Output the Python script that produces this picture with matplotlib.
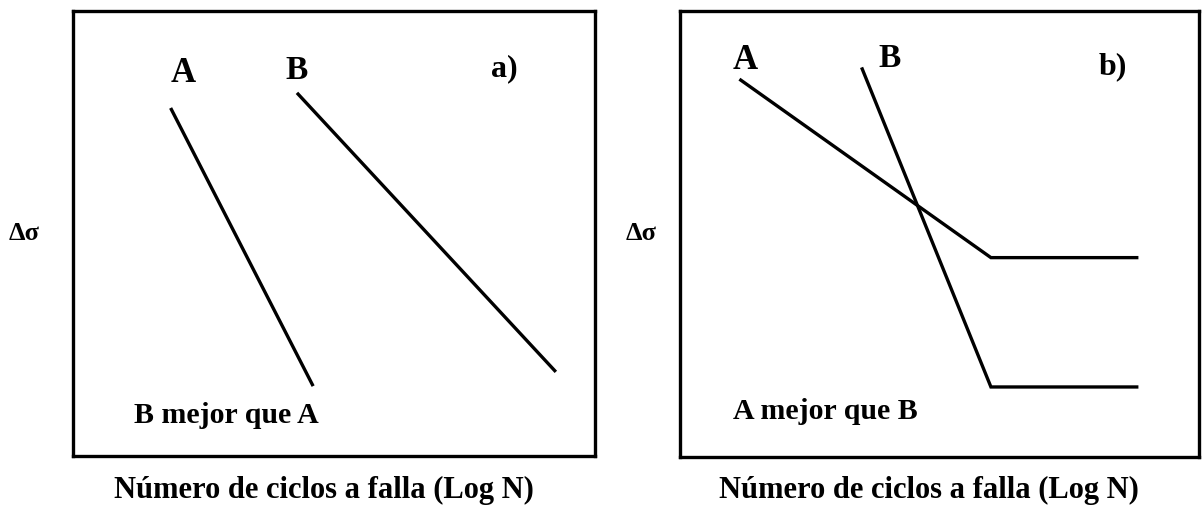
import matplotlib
matplotlib.use("Agg")
import matplotlib.pyplot as plt

# ─── Data (schematic S-N curves, axes 0–10 in both directions) ───────────────
# Panel a): two straight lines, B lies to the right of A
A_LEFT_X = [1.87, 4.60]
A_LEFT_Y = [7.82, 1.57]
B_LEFT_X = [4.29, 9.25]
B_LEFT_Y = [8.16, 1.89]

# Panel b): curves with a fatigue limit (horizontal tail)
A_RIGHT_X = [1.17, 5.99, 8.80]
A_RIGHT_Y = [8.45, 4.47, 4.47]
B_RIGHT_X = [3.51, 5.99, 8.80]
B_RIGHT_Y = [8.70, 1.57, 1.57]

XLABEL = "Número de ciclos a falla (Log N)"
YLABEL = "Δσ"
NOTE_LEFT = "B mejor que A"
NOTE_RIGHT = "A mejor que B"

FONT = ["Liberation Serif", "DejaVu Serif"]
LW = 2.4

fig = plt.figure(figsize=(12.03, 5.08), dpi=100)
ax1 = fig.add_axes([0.0607, 0.1024, 0.4339, 0.8760])
ax2 = fig.add_axes([0.5653, 0.1004, 0.4314, 0.8780])

for ax in (ax1, ax2):
    ax.set_xlim(0, 10)
    ax.set_ylim(0, 10)
    ax.set_xticks([])
    ax.set_yticks([])
    for sp in ax.spines.values():
        sp.set_linewidth(2.4)
        sp.set_color("black")
    ax.set_xlabel(XLABEL, family=FONT, fontweight="bold", fontsize=22, va="center")
    ax.set_ylabel(YLABEL, family=FONT, fontweight="bold", fontsize=19, rotation=0,
                  va="center", ha="center")

ax1.xaxis.set_label_coords(0.48, -0.078)
ax2.xaxis.set_label_coords(0.48, -0.076)
ax1.yaxis.set_label_coords(-0.094, 0.50)
ax2.yaxis.set_label_coords(-0.075, 0.50)

# ── panel a) ──
ax1.plot(A_LEFT_X, A_LEFT_Y, color="black", lw=LW, solid_capstyle="butt")
ax1.plot(B_LEFT_X, B_LEFT_Y, color="black", lw=LW, solid_capstyle="butt")
ax1.text(2.11, 8.60, "A", family=FONT, fontweight="bold", fontsize=25,
         ha="center", va="center")
ax1.text(4.29, 8.66, "B", family=FONT, fontweight="bold", fontsize=24,
         ha="center", va="center")
ax1.text(8.26, 8.70, "a)", family=FONT, fontweight="bold", fontsize=23,
         ha="center", va="center")
ax1.text(2.93, 0.92, NOTE_LEFT, family=FONT, fontweight="bold", fontsize=21.5,
         ha="center", va="center")

# ── panel b) ──
ax2.plot(A_RIGHT_X, A_RIGHT_Y, color="black", lw=LW, solid_joinstyle="miter")
ax2.plot(B_RIGHT_X, B_RIGHT_Y, color="black", lw=LW, solid_joinstyle="miter")
ax2.text(1.25, 8.90, "A", family=FONT, fontweight="bold", fontsize=25,
         ha="center", va="center")
ax2.text(4.03, 8.93, "B", family=FONT, fontweight="bold", fontsize=24,
         ha="center", va="center")
ax2.text(8.34, 8.76, "b)", family=FONT, fontweight="bold", fontsize=23,
         ha="center", va="center")
ax2.text(2.80, 1.02, NOTE_RIGHT, family=FONT, fontweight="bold", fontsize=21.5,
         ha="center", va="center")

fig.savefig("out.png", dpi=100)
